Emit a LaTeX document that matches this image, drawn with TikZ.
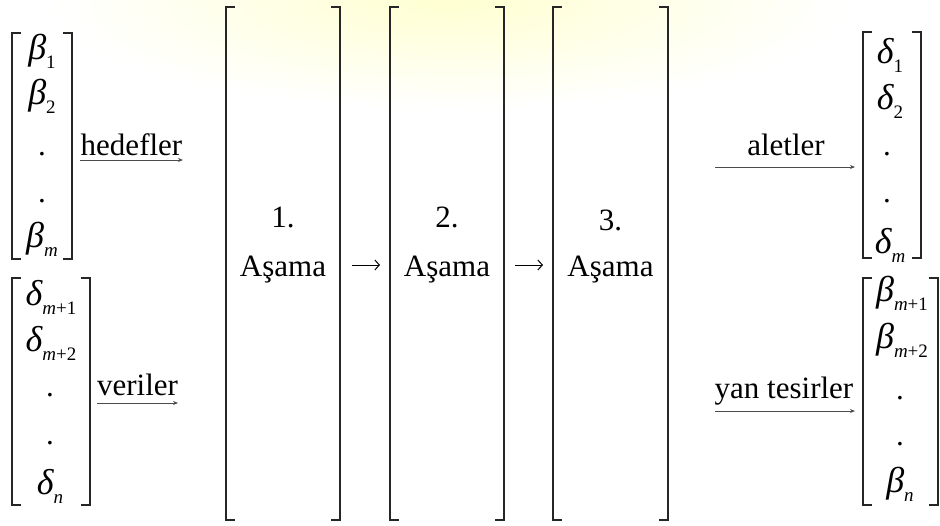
\documentclass[tikz,border=0pt]{standalone}
\usepackage{fontspec}
\setmainfont{Liberation Serif}
\usetikzlibrary{arrows.meta}
\newcommand\subs[1]{\raisebox{-0.3em}{\fontsize{19}{19}\selectfont #1}}
\newcommand\gk[1]{{\fontsize{36}{36}\selectfont\itshape #1}}
\begin{document}
\begin{tikzpicture}[x=1pt,y=-1pt,
  grp/.style={inner sep=0pt,outer sep=0pt,minimum width=#1},
  ent/.style={anchor=base,inner sep=0pt,font=\fontsize{31}{31}\selectfont},
  txt/.style={anchor=base,inner sep=0pt,font=\fontsize{31}{31}\selectfont},
  brk/.style={line width=1.3pt,draw=black!85},
  labarrow/.style={line width=0.8pt,draw=black!70,-{Stealth[length=5pt,width=4pt]}},
  stagearrow/.style={line width=1pt,-{Straight Barb[length=4.5pt,width=10pt]}}]
\useasboundingbox (0,0) rectangle (940,525);
% faint glow at the top
\shade[inner color=yellow!18,outer color=white] (450,0) ellipse [x radius=400, y radius=110];
% bracket groups
\node[grp=60pt,minimum height=226pt] (L1) at (42,146) {};
\node[grp=78pt,minimum height=227pt] (L2) at (51,391.5) {};
\node[grp=114pt,minimum height=513pt] (S1) at (283,263.5) {};
\node[grp=114pt,minimum height=513pt] (S2) at (447,263.5) {};
\node[grp=115pt,minimum height=513pt] (S3) at (610.5,263.5) {};
\node[grp=58pt,minimum height=226pt] (R1) at (892,145) {};
\node[grp=75pt,minimum height=227pt] (R2) at (900.5,391.5) {};
\foreach \n in {L1,L2,S1,S2,S3,R1,R2}{
  \draw[brk] ([xshift=9pt]\n.north west) -- (\n.north west) -- (\n.south west) -- ([xshift=9pt]\n.south west);
  \draw[brk] ([xshift=-9pt]\n.north east) -- (\n.north east) -- (\n.south east) -- ([xshift=-9pt]\n.south east);
}
% left top column
\node[ent] (a1) at (42,59) {\gk{β}\subs{1}};
\node[ent] (a2) at (42,104) {\gk{β}\subs{2}};
\node[ent] (a3) at (42,155) {.};
\node[ent] (a4) at (42,202) {.};
\node[ent] (a5) at (42,247) {\gk{β}\subs{\textit{m}}};
% left bottom column
\node[ent] (b1) at (51,305) {\gk{δ}\subs{\textit{m}+1}};
\node[ent] (b2) at (51,351) {\gk{δ}\subs{\textit{m}+2}};
\node[ent] (b3) at (50,396) {.};
\node[ent] (b4) at (50,444) {.};
\node[ent] (b5) at (50,494) {\gk{δ}\subs{\textit{n}}};
% right top column
\node[ent] (c1) at (890,63) {\gk{δ}\subs{1}};
\node[ent] (c2) at (890,109) {\gk{δ}\subs{2}};
\node[ent] (c3) at (887,155) {.};
\node[ent] (c4) at (887,202) {.};
\node[ent] (c5) at (890,253) {\gk{δ}\subs{\textit{m}}};
% right bottom column
\node[ent] (d1) at (902,301) {\gk{β}\subs{\textit{m}+1}};
\node[ent] (d2) at (902,348) {\gk{β}\subs{\textit{m}+2}};
\node[ent] (d3) at (900,399) {.};
\node[ent] (d4) at (900,445) {.};
\node[ent] (d5) at (900,492) {\gk{β}\subs{\textit{n}}};
% stage texts
\node[txt] (t1a) at (283,227) {1.};
\node[txt] (t1b) at (283,276) {Aşama};
\node[txt] (t2a) at (447,227) {2.};
\node[txt] (t2b) at (447,276) {Aşama};
\node[txt] (t3a) at (610.5,230) {3.};
\node[txt] (t3b) at (610.5,276) {Aşama};
% stage arrows
\draw[stagearrow,shorten <=12pt,shorten >=10pt] ([yshift=-1.5pt]S1.east) -- ([yshift=-1.5pt]S2.west);
\draw[stagearrow,shorten <=11pt,shorten >=10pt] ([yshift=-1.5pt]S2.east) -- ([yshift=-1.5pt]S3.west);
% labelled arrows
\node[txt] (hed) at (131.5,155) {hedefler};
\coordinate (h0) at (80,160); \coordinate (h1) at (183,160);
\draw[labarrow] (h0) -- (h1);
\node[txt] (ver) at (137.5,395) {veriler};
\coordinate (v0) at (97,403); \coordinate (v1) at (178,403);
\draw[labarrow] (v0) -- (v1);
\node[txt] (ale) at (786,155) {aletler};
\coordinate (al0) at (715,167); \coordinate (al1) at (855,167);
\draw[labarrow] (al0) -- (al1);
\node[txt] (yan) at (784,398) {yan tesirler};
\coordinate (y0) at (715,411); \coordinate (y1) at (855,411);
\draw[labarrow] (y0) -- (y1);
\end{tikzpicture}
\end{document}
